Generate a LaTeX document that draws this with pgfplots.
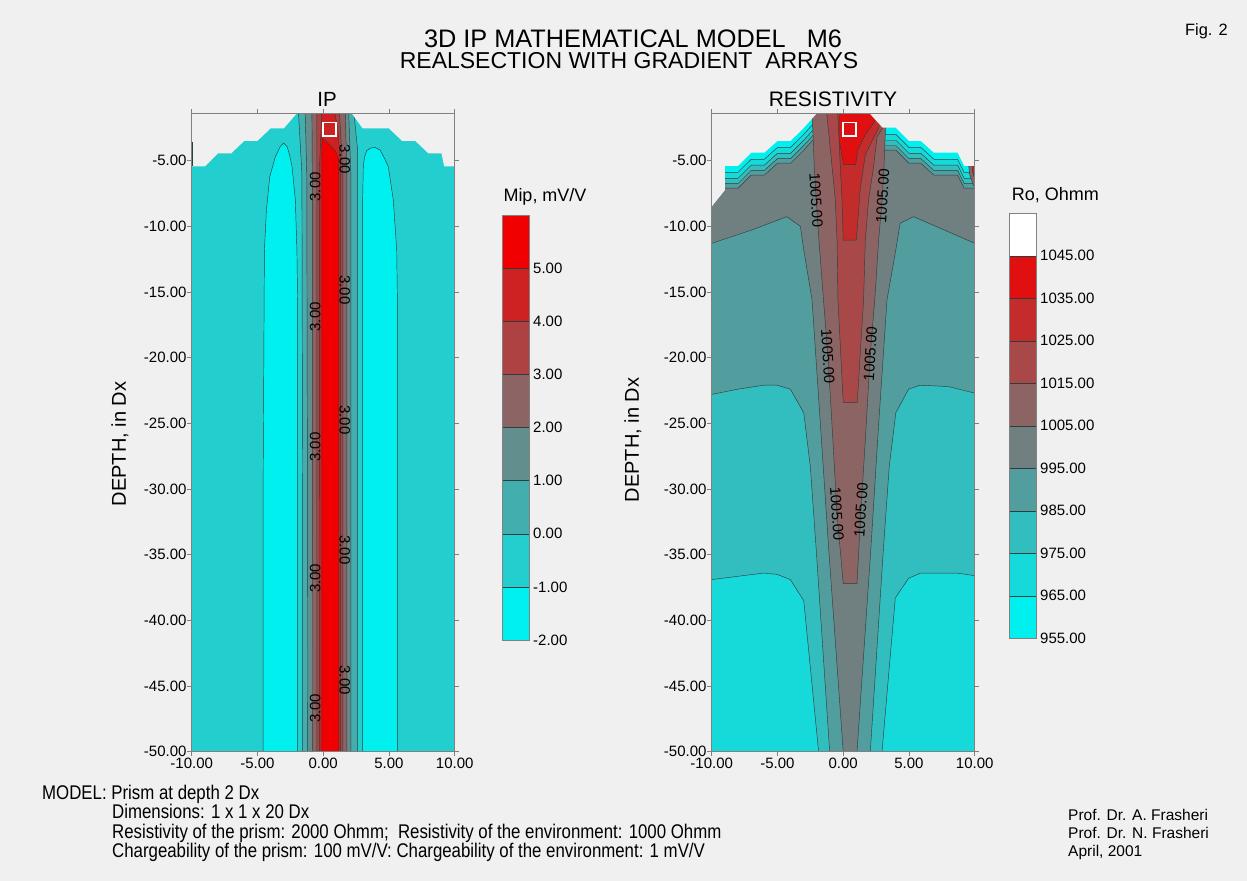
\documentclass[border=0pt]{standalone}
\usepackage{fontspec}
\setmainfont{Liberation Sans}
\newfontfamily\notefont[FakeStretch=0.85]{Liberation Sans}
\usepackage{pgfplots}
\pgfplotsset{compat=1.18}

\newcommand{\fsz}[1]{\fontsize{#1bp}{#1bp}\selectfont}

\definecolor{bg}{RGB}{240,240,240}
\definecolor{cline}{RGB}{45,62,62}
\definecolor{frame}{RGB}{128,128,128}
% chargeability classes, -2 ... 6 mV/V
\definecolor{ipA}{RGB}{0,240,240}
\definecolor{ipB}{RGB}{34,206,206}
\definecolor{ipC}{RGB}{66,174,174}
\definecolor{ipD}{RGB}{98,142,142}
\definecolor{ipE}{RGB}{140,100,100}
\definecolor{ipF}{RGB}{174,66,66}
\definecolor{ipG}{RGB}{206,34,34}
\definecolor{ipH}{RGB}{240,0,0}
% resistivity classes, 955 ... 1055 Ohmm
\definecolor{roA}{RGB}{0,240,240}
\definecolor{roB}{RGB}{22,218,218}
\definecolor{roC}{RGB}{50,190,190}
\definecolor{roD}{RGB}{82,158,158}
\definecolor{roE}{RGB}{112,128,128}
\definecolor{roF}{RGB}{140,100,100}
\definecolor{roG}{RGB}{168,72,72}
\definecolor{roH}{RGB}{196,44,44}
\definecolor{roI}{RGB}{224,16,16}

\tikzset{
  band/.style={fill=#1, draw=cline, line width=0.45bp},
  contourlabel/.style={font=\fsz{15}, inner sep=0pt},
}

\pgfplotsset{
  section/.style={
    anchor=south west, scale only axis, width=263bp, height=638.4bp,
    xmin=-10, xmax=10, ymin=-50, ymax=-1.4,
    axis on top, no markers,
    axis line style={frame, line width=0.6bp},
    every tick/.append style={frame, line width=0.6bp},
    tick align=outside, major tick length=4.5bp,
    xtick={-10,-5,0,5,10},
    xticklabels={-10.00,-5.00,0.00,5.00,10.00},
    ytick={-50,-45,-40,-35,-30,-25,-20,-15,-10,-5},
    yticklabels={-50.00,-45.00,-40.00,-35.00,-30.00,-25.00,-20.00,-15.00,-10.00,-5.00},
    ticklabel style={font=\fsz{15}},
    xticklabel style={inner sep=1.5bp},
    yticklabel style={inner sep=0.5bp},
  },
  scalebar/.style={
    anchor=south west, scale only axis, width=26.7bp, height=425bp,
    xmin=0, xmax=1, axis on top, no markers,
    axis line style={frame, line width=0.6bp},
    xtick=\empty, major tick length=0pt,
    yticklabel pos=right,
    yticklabel style={anchor=west, inner sep=0pt, xshift=4bp, font=\fsz{15}},
  },
}

\begin{document}
\begin{tikzpicture}
\fill[bg] (0bp,0bp) rectangle (1247bp,-881bp);

% ---------------- IP section ----------------
\begin{axis}[section, at={(191.7bp,-751.7bp)}]
\addplot[fill=ipB, draw=none] coordinates {(-10.5,-51)(10.5,-51)(10.5,-1)(-10.5,-1)} -- cycle;
% minima below -1 mV/V on both sides of the prism
\addplot[band=ipA] coordinates {(-4.57,-51)(-4.57,-30)(-4.47,-11.8)(-4.32,-8.8)(-4.07,-6.26)(-3.64,-4.7)(-3.26,-3.93)(-3.01,-3.67)(-2.75,-3.93)(-2.55,-4.6)(-2.37,-5.46)(-2.12,-8.0)(-2.0,-11.8)(-1.95,-15.6)(-1.95,-51)} -- cycle;
\addplot[band=ipA] coordinates {(3.0,-51)(3.0,-8.0)(3.05,-5.46)(3.15,-4.7)(3.31,-4.25)(3.6,-4.05)(3.94,-4.0)(4.32,-4.19)(4.65,-4.8)(4.95,-5.46)(5.33,-8.0)(5.59,-11.8)(5.64,-15.6)(5.64,-51)} -- cycle;
% anomaly above 0, 1, 2, 3, 4, 5 mV/V
\addplot[band=ipC] coordinates {(-1.57,-51)(-1.57,-30)(-1.62,-6)(-1.9,-1)(2.3,-1)(2.6,-4)(2.6,-51)} -- cycle;
\addplot[band=ipD] coordinates {(-1.19,-51)(-1.2,-30)(-1.25,-6)(-1.38,-1)(1.93,-1)(2.1,-6)(2.1,-51)} -- cycle;
\addplot[band=ipE] coordinates {(-0.81,-51)(-0.83,-6)(-0.86,-1)(1.67,-1)(1.8,-6)(1.8,-51)} -- cycle;
\addplot[band=ipF] coordinates {(-0.48,-51)(-0.48,-1)(1.22,-1)(1.49,-6)(1.49,-51)} -- cycle;
\addplot[band=ipG] coordinates {(-0.27,-51)(-0.3,-6)(-0.15,-2.2)(-0.1,-1)(0.8,-1)(1.1,-2.5)(1.3,-5)(1.3,-51)} -- cycle;
\addplot[band=ipH] coordinates {(-0.1,-51)(-0.1,-3.25)(0.9,-4.2)(1.16,-4.8)(1.16,-51)} -- cycle;
% area above the relief
\addplot[fill=bg, draw=none] coordinates {(-10.5,-1)(-10.5,-5.45)(-9,-5.45)(-8,-4.45)(-7,-4.45)(-6,-3.5)(-5,-3.5)(-4,-2.55)(-3,-2.55)(-2,-1.4)(2.17,-1.4)(3,-2.55)(5,-2.55)(6,-3.5)(7,-3.5)(8,-4.45)(9,-4.45)(9.2,-5.45)(10.5,-5.45)(10.5,-1)} -- cycle;
\addplot[draw=cline, line width=0.8bp] coordinates {(-9.97,-3.55)(-9.97,-5.45)};
% prism
\addplot[draw=white, line width=1.8bp] coordinates {(0,-2.1)(1,-2.1)(1,-3.1)(0,-3.1)} -- cycle;
% isoline labels
\node[contourlabel, rotate=90] at (axis cs:-0.6,-7.0) {3.00};
\node[contourlabel, rotate=90] at (axis cs:-0.6,-16.9) {3.00};
\node[contourlabel, rotate=90] at (axis cs:-0.6,-26.8) {3.00};
\node[contourlabel, rotate=90] at (axis cs:-0.6,-36.8) {3.00};
\node[contourlabel, rotate=90] at (axis cs:-0.6,-46.7) {3.00};
\node[contourlabel, rotate=-90] at (axis cs:1.65,-4.9) {3.00};
\node[contourlabel, rotate=-90] at (axis cs:1.65,-14.85) {3.00};
\node[contourlabel, rotate=-90] at (axis cs:1.65,-24.75) {3.00};
\node[contourlabel, rotate=-90] at (axis cs:1.65,-34.65) {3.00};
\node[contourlabel, rotate=-90] at (axis cs:1.65,-44.55) {3.00};
\end{axis}

% ---------------- Resistivity section ----------------
\begin{axis}[section, at={(711.7bp,-751.7bp)}]
\addplot[fill=roA, draw=none] coordinates {(-10.5,-51)(10.5,-51)(10.5,-1)(-10.5,-1)} -- cycle;
% above 965
\addplot[band=roB] coordinates {(-10.5,-51)(-10.5,-5.9)(-8,-5.9)(-7,-4.9)(-6,-4.9)(-5,-4.0)(-4,-4.0)(-3,-3.0)(-2,-1.9)(2,-1.9)(3,-3.0)(4,-3.0)(5,-4.0)(5.9,-4.0)(6.9,-4.9)(8.7,-4.9)(9.2,-5.9)(10.5,-5.9)(10.5,-51)} -- cycle;
% above 975
\addplot[band=roC] coordinates {(-10.5,-36.9)(-10.5,-6.35)(-8,-6.35)(-7,-5.35)(-6,-5.35)(-5,-4.45)(-4,-4.45)(-3,-3.45)(-2,-2.35)(2,-2.35)(3,-3.45)(4,-3.45)(5,-4.45)(5.9,-4.45)(6.9,-5.35)(8.7,-5.35)(9.2,-6.35)(10.5,-6.35)(10.5,-36.6)(10,-36.6)(8.65,-36.4)(5.87,-36.4)(4.97,-36.8)(3.96,-38.3)(2.95,-50)(2.95,-51)(-1.87,-51)(-1.87,-50)(-3.0,-38.5)(-4.02,-36.9)(-5.03,-36.5)(-6.05,-36.4)(-10,-36.9)} -- cycle;
% above 985
\addplot[band=roD] coordinates {(-10.5,-22.8)(-10.5,-6.75)(-8,-6.75)(-7,-5.75)(-6,-5.75)(-5,-4.85)(-4,-4.85)(-3,-3.85)(-2,-2.75)(2,-2.75)(3,-3.85)(4,-3.85)(5,-4.85)(5.9,-4.85)(6.9,-5.75)(8.7,-5.75)(9.2,-6.75)(10.5,-6.75)(10.5,-22.8)(10,-22.7)(8,-22.2)(5.86,-22.1)(4.97,-22.4)(4.0,-24.2)(3.5,-28.3)(3.05,-34.65)(2.06,-50)(2.06,-51)(-1.03,-51)(-1.03,-50)(-2.05,-34.65)(-2.5,-28.3)(-3.0,-24.2)(-4.02,-22.4)(-5.03,-22.1)(-6.05,-22.1)(-8,-22.4)(-10,-22.8)} -- cycle;
% above 995
\addplot[band=roE] coordinates {(-10.5,-11.4)(-10.5,-7.1)(-8,-7.1)(-7,-6.1)(-6,-6.1)(-5,-5.2)(-4,-5.2)(-3,-4.2)(-2,-3.1)(2,-3.1)(3,-4.2)(4,-4.2)(5,-5.2)(5.9,-5.2)(6.9,-6.1)(8.7,-6.1)(9.2,-7.1)(10.5,-7.1)(10.5,-11.4)(10,-11.3)(7.5,-10.2)(5.35,-9.27)(4.33,-9.77)(4.0,-11.8)(3.33,-15.6)(2.7,-25)(2.1,-34.6)(1.05,-50)(1.05,-51)(0,-51)(0,-50)(-1.1,-34.6)(-1.74,-25)(-2.37,-15.6)(-3.0,-11.8)(-3.26,-10.0)(-4.3,-9.27)(-7,-10.3)(-10,-11.3)} -- cycle;
% above 1005
\addplot[band=roF] coordinates {(-2.4,-1)(-2.3,-2.9)(-2.2,-5.5)(-2.05,-8)(-1.85,-11)(-1.5,-15.6)(-1.16,-19.9)(-0.8,-26)(-0.47,-31.9)(0,-37.2)(1.05,-37.2)(1.35,-31.6)(1.7,-26)(2.06,-19.7)(2.4,-15.6)(2.7,-11)(2.98,-7.7)(3.1,-5.5)(3.2,-2.9)(3.3,-1)} -- cycle;
% above 1015
\addplot[band=roG] coordinates {(-1.3,-1)(-1.1,-2.9)(-0.85,-5.46)(-0.6,-8.0)(-0.47,-11.05)(-0.4,-15.6)(0,-23.4)(1.07,-23.4)(1.55,-15.6)(1.68,-11.05)(1.93,-8.0)(2.31,-5.46)(2.57,-3.2)(3.0,-2.5)(3.4,-1)} -- cycle;
% above 1025
\addplot[band=roH] coordinates {(-0.45,-1)(-0.35,-2.66)(-0.22,-5.46)(-0.09,-8.0)(0,-11.05)(1.0,-11.05)(1.3,-7.1)(1.68,-4.57)(2.2,-3.5)(2.7,-2.5)(3.0,-1)} -- cycle;
% above 1035
\addplot[band=roI] coordinates {(-0.2,-1)(-0.3,-2.0)(-0.3,-3.5)(0.03,-5.3)(0.95,-5.3)(1.1,-4.2)(1.7,-3.0)(2.4,-2.0)(2.6,-1)} -- cycle;
% local high at the eastern border
\addplot[band=roF] coordinates {(9.55,-5.4)(10.5,-5.4)(10.5,-7.2)(9.9,-6.9)(9.6,-6.0)} -- cycle;
\addplot[band=roH] coordinates {(9.8,-5.4)(10.5,-5.4)(10.5,-6.6)(10,-6.4)(9.85,-5.9)} -- cycle;
% area above the relief
\addplot[fill=bg, draw=none] coordinates {(-10.5,-1)(-10.5,-8.5)(-10,-8.5)(-9,-7.25)(-9,-5.4)(-8,-5.4)(-7,-4.4)(-6,-4.4)(-5,-3.5)(-4,-3.5)(-3,-2.5)(-2,-1.4)(2,-1.4)(3,-2.5)(4,-2.5)(5,-3.5)(5.9,-3.5)(6.9,-4.4)(8.7,-4.4)(9.2,-5.4)(10.5,-5.4)(10.5,-1)} -- cycle;
% prism
\addplot[draw=white, line width=1.8bp] coordinates {(0,-2.1)(1,-2.1)(1,-3.1)(0,-3.1)} -- cycle;
% isoline labels
\node[contourlabel, rotate=-86.5] at (axis cs:-2.05,-8.0) {1005.00};
\node[contourlabel, rotate=86.5] at (axis cs:3.0,-7.7) {1005.00};
\node[contourlabel, rotate=-86.5] at (axis cs:-1.16,-19.9) {1005.00};
\node[contourlabel, rotate=86.5] at (axis cs:2.06,-19.7) {1005.00};
\node[contourlabel, rotate=-86.5] at (axis cs:-0.47,-31.9) {1005.00};
\node[contourlabel, rotate=86.5] at (axis cs:1.35,-31.6) {1005.00};
\end{axis}

% ---------------- colour scales ----------------
\begin{axis}[scalebar, at={(502.3bp,-640bp)}, ymin=-2, ymax=6,
  ytick={-2,-1,0,1,2,3,4,5},
  yticklabels={-2.00,-1.00,0.00,1.00,2.00,3.00,4.00,5.00}]
\addplot[band=ipA] coordinates {(0,-2)(1,-2)(1,-1)(0,-1)} -- cycle;
\addplot[band=ipB] coordinates {(0,-1)(1,-1)(1,0)(0,0)} -- cycle;
\addplot[band=ipC] coordinates {(0,0)(1,0)(1,1)(0,1)} -- cycle;
\addplot[band=ipD] coordinates {(0,1)(1,1)(1,2)(0,2)} -- cycle;
\addplot[band=ipE] coordinates {(0,2)(1,2)(1,3)(0,3)} -- cycle;
\addplot[band=ipF] coordinates {(0,3)(1,3)(1,4)(0,4)} -- cycle;
\addplot[band=ipG] coordinates {(0,4)(1,4)(1,5)(0,5)} -- cycle;
\addplot[band=ipH] coordinates {(0,5)(1,5)(1,6)(0,6)} -- cycle;
\end{axis}

\begin{axis}[scalebar, at={(1009.3bp,-638.3bp)}, ymin=955, ymax=1055,
  ytick={955,965,975,985,995,1005,1015,1025,1035,1045},
  yticklabels={955.00,965.00,975.00,985.00,995.00,1005.00,1015.00,1025.00,1035.00,1045.00}]
\addplot[band=roA] coordinates {(0,955)(1,955)(1,965)(0,965)} -- cycle;
\addplot[band=roB] coordinates {(0,965)(1,965)(1,975)(0,975)} -- cycle;
\addplot[band=roC] coordinates {(0,975)(1,975)(1,985)(0,985)} -- cycle;
\addplot[band=roD] coordinates {(0,985)(1,985)(1,995)(0,995)} -- cycle;
\addplot[band=roE] coordinates {(0,995)(1,995)(1,1005)(0,1005)} -- cycle;
\addplot[band=roF] coordinates {(0,1005)(1,1005)(1,1015)(0,1015)} -- cycle;
\addplot[band=roG] coordinates {(0,1015)(1,1015)(1,1025)(0,1025)} -- cycle;
\addplot[band=roH] coordinates {(0,1025)(1,1025)(1,1035)(0,1035)} -- cycle;
\addplot[band=roI] coordinates {(0,1035)(1,1035)(1,1045)(0,1045)} -- cycle;
\addplot[band=white] coordinates {(0,1045)(1,1045)(1,1055)(0,1055)} -- cycle;
\end{axis}

% ---------------- titles and notes ----------------
\node[anchor=base, inner sep=0pt, font=\fsz{25.3}] at (633bp,-47.5bp) {3D IP MATHEMATICAL MODEL~~~M6};
\node[anchor=base, inner sep=0pt, font=\fsz{23}] at (629bp,-68.8bp) {REALSECTION WITH GRADIENT~~ARRAYS};
\node[anchor=base west, inner sep=0pt, font=\fsz{16.4}] at (1185bp,-35bp) {Fig. 2};
\node[anchor=base, inner sep=0pt, font=\fsz{20.5}] at (327bp,-106bp) {IP};
\node[anchor=base, inner sep=0pt, font=\fsz{21}] at (833bp,-106bp) {RESISTIVITY};
\node[rotate=90, inner sep=0pt, font=\fsz{20}] at (120bp,-444bp) {DEPTH, in Dx};
\node[rotate=90, inner sep=0pt, font=\fsz{20}] at (633bp,-440bp) {DEPTH, in Dx};
\node[anchor=base west, inner sep=0pt, font=\fsz{18}] at (503.3bp,-201.7bp) {Mip, mV/V};
\node[anchor=base west, inner sep=0pt, font=\fsz{18}] at (1011.7bp,-200.7bp) {Ro, Ohmm};

\begin{scope}[every node/.style={anchor=base west, inner sep=0pt, font=\notefont\fsz{19.8}}]
\node at (42bp,-799bp) {MODEL: Prism at depth 2 Dx};
\node at (112bp,-818.5bp) {Dimensions: 1 x 1 x 20 Dx};
\node at (112bp,-838bp) {Resistivity of the prism: 2000 Ohmm;~~Resistivity of the environment: 1000 Ohmm};
\node at (112bp,-857.5bp) {Chargeability of the prism: 100 mV/V: Chargeability of the environment: 1 mV/V};
\end{scope}
\begin{scope}[every node/.style={anchor=base west, inner sep=0pt, font=\fsz{15.5}}]
\node at (1068bp,-820bp) {Prof. Dr. A. Frasheri};
\node at (1068bp,-838bp) {Prof. Dr. N. Frasheri};
\node at (1068bp,-856bp) {April, 2001};
\end{scope}
\end{tikzpicture}
\end{document}
